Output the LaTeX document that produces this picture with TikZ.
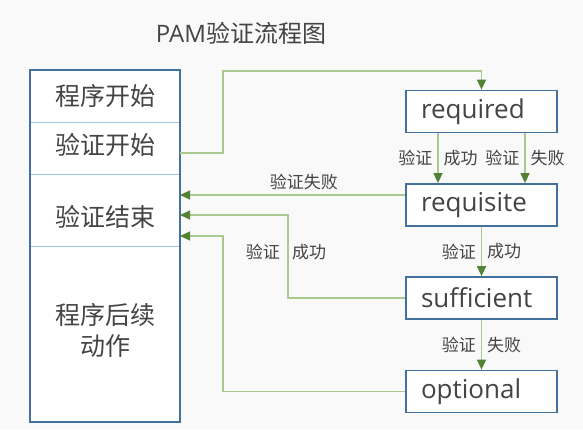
\documentclass[tikz,border=0pt]{standalone}
\usepackage{fontspec}
\setmainfont{Open Sans}
\newfontfamily\cjk{Noto Sans CJK SC}
\usetikzlibrary{arrows.meta}
\definecolor{boxblue}{HTML}{41719C}
\definecolor{divblue}{HTML}{9DC3E6}
\definecolor{linegreen}{HTML}{A9C98E}
\definecolor{tipgreen}{HTML}{548235}
\definecolor{txt}{HTML}{444444}
\definecolor{bg}{HTML}{F9F9F9}
\tikzset{
  sect/.style={minimum width=150pt, inner sep=0pt, outer sep=0pt},
  cjktext/.style={text=txt, font=\cjk\fontsize{25}{31}\selectfont, align=center, inner sep=0pt},
  modbox/.style={draw=boxblue, line width=1.8pt, fill=white, minimum width=151pt, minimum height=42pt,
    text width=121pt, inner xsep=15pt, inner ysep=0pt, align=left, text=txt, font=\fontsize{26}{30}\selectfont},
  conn/.style={draw=linegreen, line width=1.3pt, -{Triangle[length=10pt,width=9pt,color=tipgreen]}},
  lbl/.style={text=txt, font=\cjk\fontsize{17}{19}\selectfont, inner xsep=5pt, inner ysep=2pt}
}
\begin{document}
\begin{tikzpicture}[x=1pt,y=1pt]
\fill[bg] (0,0) rectangle (583,-429);
\useasboundingbox (0,0) rectangle (583,-429);

% title
\node[text=txt, font=\fontsize{24}{28}\selectfont] (title) at (241,-33) {PAM{\cjk 验证流程图}};

% left box sections
\node[sect, minimum height=52pt, fill=white] (sec1) at (105,-96) {};
\node[sect, minimum height=52pt, fill=white] (sec2) at (105,-148) {};
\node[sect, minimum height=72pt, fill=white] (sec3) at (105,-210) {};
\node[sect, minimum height=176pt, fill=white] (sec4) at (105,-334) {};
\draw[divblue, line width=1pt] (sec1.south west) -- (sec1.south east);
\draw[divblue, line width=1pt] (sec2.south west) -- (sec2.south east);
\draw[divblue, line width=1pt] (sec3.south west) -- (sec3.south east);
\draw[boxblue, line width=1.8pt] (sec1.north west) rectangle (sec4.south east);

\node[cjktext] (t1) at (105,-96) {程序开始};
\node[cjktext] (t2) at (105,-145) {验证开始};
\node[cjktext] (t3) at (105,-217) {验证结束};
\node[cjktext] (t4) at (105,-330) {程序后续\\动作};

% right boxes
\node[modbox] (req) at (481.5,-111.5) {required};
\node[modbox] (reqs) at (481.5,-205) {requisite};
\node[modbox] (suff) at (481.5,-298) {sufficient};
\node[modbox] (opt) at (481.5,-391.5) {optional};

\coordinate (k1) at (288,-215);
\coordinate (k2) at (223,-236);

% connectors
\draw[conn] ([yshift=-5pt]sec2.east) -- ++(43,0) -- ++(0,82) -| (req.north);
\draw[conn] ([xshift=-43.5pt]req.south) -- ([xshift=-43.5pt]reqs.north)
  node[lbl, midway, left] {验证} node[lbl, midway, right] {成功};
\draw[conn] ([xshift=43.5pt]req.south) -- ([xshift=43.5pt]reqs.north)
  node[lbl, midway, left] {验证} node[lbl, midway, right] {失败};
\draw[conn] ([yshift=10pt]reqs.west) -- ([yshift=10pt]reqs.west -| sec3.east)
  node[lbl, pos=0.45, above, yshift=2pt] {验证失败};
\draw[conn] (reqs.south) -- (suff.north)
  node[lbl, midway, left] {验证} node[lbl, midway, right] {成功};
\draw[conn] (suff.west) -| (k1) -- (k1 -| sec3.east);
\node[lbl, left, xshift=-3pt] at (288,-252) {验证};
\node[lbl, right, xshift=-1pt] at (288,-252) {成功};
\draw[conn] (suff.south) -- (opt.north)
  node[lbl, midway, left] {验证} node[lbl, midway, right] {失败};
\draw[conn] (opt.west) -| (k2) -- (k2 -| sec3.east);
\end{tikzpicture}
\end{document}
